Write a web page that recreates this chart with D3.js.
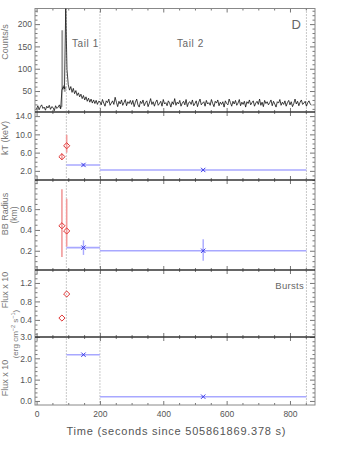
<!DOCTYPE html>
<html>
<head>
<meta charset="utf-8">
<script src="https://cdn.jsdelivr.net/npm/d3@7"></script>
<style>
  body { margin: 0; background: #fff; }
  svg { font-family: "Liberation Sans", Arial, sans-serif; }
</style>
</head>
<body>
<svg id="chart" width="350" height="450"></svg>
<script>
// light curve, 4 s bins starting at t = 0
const binWidth = 4;
const counts = [
  10, 17, 8, 15, 19, 11, 14, 7, 16, 12, 18, 9, 15, 13, 6, 17, 11, 14, 19, 10,
  52, 60, 55, 235, 98,
  64, 52, 60, 47, 56, 44, 51, 40, 46, 37, 43, 33, 40, 30, 37, 27, 34, 25, 32, 23, 30, 22, 29, 20, 27,
  26, 19, 31, 23, 16, 28, 24, 32, 18, 23, 28, 20, 36, 25, 15, 27, 21, 30, 18, 24, 31, 17, 26, 22, 29,
  20, 29, 15, 25, 32, 19, 14, 27, 22, 30, 17, 24,
  28, 15, 23, 33, 20, 26, 16, 25, 30, 18, 22, 27,
  16, 31, 21, 24, 17, 28, 23, 14, 26, 20, 33, 18,
  25, 21, 29, 16, 23, 27, 19, 31, 15, 24, 26, 20,
  30, 17, 22, 28, 15, 25, 32, 19, 23, 26, 16, 29,
  21, 24, 18, 31, 22, 15, 27, 23, 30, 17, 25, 20,
  26, 14, 28, 22, 19, 32, 24, 16, 27, 21, 29, 18,
  23, 31, 17, 25, 20, 27, 14, 26, 22, 30, 19, 24,
  28, 16, 23, 27, 20, 32, 18, 25, 15, 29, 22, 26,
  19, 24, 30, 17, 27, 21, 14, 26, 23, 31, 18, 25,
  20, 28, 16, 24, 29, 19, 26, 15, 22, 32, 21, 27,
  17, 25, 30, 20, 23, 27, 16, 24, 28, 21, 18
];
// finer binned curve around the first burst (gray)
const fineTimes = [72, 76, 78, 80, 82, 84, 86, 88, 90, 92];
const fineCounts = [13, 15, 16, 185, 62, 55, 58, 50, 56, 60];

// burst spectra (red)
const burstTimes = [80, 95];
const burstKT = [5.1, 7.5];
const burstKTLo = [4.4, 6.0];
const burstKTHi = [5.8, 9.9];
const burstRadius = [0.44, 0.39];
const burstRadiusLo = [0.14, 0.24];
const burstRadiusHi = [0.79, 0.70];
const burstFlux = [0.44, 0.96];

// tail spectra (blue)
const tailStart = [94, 200];
const tailEnd = [200, 852];
const tailMid = [148, 526];
const tailKT = [3.3, 2.2];
const tailKTLo = [3.0, 2.0];
const tailKTHi = [3.6, 2.4];
const tailRadius = [0.23, 0.20];
const tailRadiusLo = [0.16, 0.105];
const tailRadiusHi = [0.30, 0.31];
const tailFlux = [2.17, 0.20];

const intervalEdges = [94, 200, 852];
const xTicks = [0, 200, 400, 600, 800];
const countTicks = [50, 100, 150, 200];
const ktTicks = [2, 6, 10, 14];
const radiusTicks = [0.2, 0.4, 0.6];
const burstFluxTicks = [0.4, 0.8, 1.2];
const fluxTicks = [0, 1, 2, 3];

const svg = d3.select("#chart");
const left = 35, right = 315;
const x = d3.scaleLinear().domain([-5, 879]).range([left, right]);

const panels = [
  { top: 8.5, bottom: 112, domain: [3, 235], ticks: countTicks, minor: 10, fmt: d3.format("d") },
  { top: 112, bottom: 180, domain: [0, 14.9], ticks: ktTicks, minor: 1, fmt: d3.format(".1f") },
  { top: 180, bottom: 270, domain: [0.015, 0.88], ticks: radiusTicks, minor: 0.05, fmt: d3.format(".1f") },
  { top: 270, bottom: 337, domain: [0.03, 1.48], ticks: burstFluxTicks, minor: 0.1, fmt: d3.format(".1f") },
  { top: 337, bottom: 405, domain: [-0.19, 3.0], ticks: fluxTicks, minor: 0.2, fmt: d3.format(".1f") }
];
panels.forEach(p => {
  p.y = d3.scaleLinear().domain(p.domain).range([p.bottom, p.top]);
});

const tickColor = "#777", labelColor = "#555";

function styleAxis(g) {
  g.select(".domain").remove();
  g.selectAll(".tick line").attr("stroke", tickColor);
  g.selectAll(".tick text").attr("fill", labelColor).attr("font-size", 8.5)
    .attr("font-family", "Liberation Sans, Arial, sans-serif");
}

panels.forEach((p, i) => {
  const minorTicks = d3.range(Math.ceil(p.domain[0] / p.minor) * p.minor, p.domain[1], p.minor)
    .filter(v => !p.ticks.some(t => Math.abs(t - v) < p.minor / 10));

  // left axis
  svg.append("g").attr("transform", `translate(${left},0)`)
    .call(d3.axisLeft(p.y).tickValues(p.ticks).tickSize(-5).tickPadding(3).tickFormat(p.fmt))
    .call(styleAxis);
  svg.append("g").attr("transform", `translate(${left},0)`)
    .call(d3.axisLeft(p.y).tickValues(minorTicks).tickSize(-2.5).tickFormat(""))
    .call(styleAxis);
  // right axis
  svg.append("g").attr("transform", `translate(${right},0)`)
    .call(d3.axisRight(p.y).tickValues(p.ticks).tickSize(-5).tickFormat(""))
    .call(styleAxis);
  svg.append("g").attr("transform", `translate(${right},0)`)
    .call(d3.axisRight(p.y).tickValues(minorTicks).tickSize(-2.5).tickFormat(""))
    .call(styleAxis);

  // top and bottom time ticks
  const xMinor = d3.range(50, 879, 50).filter(v => v % 200 !== 0);
  svg.append("g").attr("transform", `translate(0,${p.top})`)
    .call(d3.axisTop(x).tickValues(xTicks).tickSize(-4).tickFormat(""))
    .call(styleAxis);
  svg.append("g").attr("transform", `translate(0,${p.top})`)
    .call(d3.axisTop(x).tickValues(xMinor).tickSize(-2).tickFormat(""))
    .call(styleAxis);
  svg.append("g").attr("transform", `translate(0,${p.bottom})`)
    .call(d3.axisBottom(x).tickValues(xTicks).tickSize(-4).tickPadding(6)
      .tickFormat(i === panels.length - 1 ? d3.format("d") : ""))
    .call(styleAxis);
  svg.append("g").attr("transform", `translate(0,${p.bottom})`)
    .call(d3.axisBottom(x).tickValues(xMinor).tickSize(-2).tickFormat(""))
    .call(styleAxis);
});

// frame: gray outer box, dark separators
svg.append("rect")
  .attr("x", left).attr("y", panels[0].top)
  .attr("width", right - left).attr("height", panels[4].bottom - panels[0].top)
  .attr("fill", "none").attr("stroke", "#888").attr("stroke-width", 1);
panels.slice(1).forEach(p => {
  svg.append("line")
    .attr("x1", left).attr("x2", right)
    .attr("y1", p.top).attr("y2", p.top)
    .attr("stroke", "#333").attr("stroke-width", 1.3);
});

// dotted interval lines
intervalEdges.forEach(t => {
  svg.append("line")
    .attr("x1", x(t)).attr("x2", x(t))
    .attr("y1", panels[0].top).attr("y2", panels[4].bottom)
    .attr("stroke", "#777").attr("stroke-width", 0.8)
    .attr("stroke-dasharray", "1,2");
});

// light curve
const p0 = panels[0];
svg.append("clipPath").attr("id", "clip0")
  .append("rect").attr("x", left).attr("y", p0.top)
  .attr("width", right - left).attr("height", p0.bottom - p0.top);

const curve = svg.append("g").attr("clip-path", "url(#clip0)");
curve.append("path")
  .datum(fineTimes.map((t, i) => [t, fineCounts[i]]))
  .attr("d", d3.line().x(d => x(d[0])).y(d => p0.y(d[1])).curve(d3.curveStepAfter))
  .attr("fill", "none").attr("stroke", "#999").attr("stroke-width", 1.2);
curve.append("path")
  .datum(counts.map((c, i) => [i * binWidth, c]))
  .attr("d", d3.line().x(d => x(d[0])).y(d => p0.y(d[1])))
  .attr("fill", "none").attr("stroke", "#111").attr("stroke-width", 0.8);

// helpers for spectral points
const red = "#e03535", lightRed = "#f29a9a", blue = "#3a3ae8", lightBlue = "#a8a8ff";

function diamonds(p, vals) {
  svg.append("g").selectAll("path")
    .data(burstTimes.map((t, i) => [t, vals[i]]))
    .join("path")
    .attr("d", d3.symbol(d3.symbolDiamond2, 24))
    .attr("transform", d => `translate(${x(d[0])},${p.y(d[1])})`)
    .attr("fill", "none").attr("stroke", red).attr("stroke-width", 1);
}
function burstErr(p, lo, hi) {
  svg.append("g").selectAll("line")
    .data(burstTimes.map((t, i) => [t, lo[i], hi[i]]))
    .join("line")
    .attr("x1", d => x(d[0])).attr("x2", d => x(d[0]))
    .attr("y1", d => p.y(d[1])).attr("y2", d => p.y(d[2]))
    .attr("stroke", lightRed).attr("stroke-width", 1.6);
}
function tails(p, vals, lo, hi) {
  const g = svg.append("g");
  const rows = tailMid.map((t, i) => ({ t, a: tailStart[i], b: tailEnd[i], v: vals[i],
    lo: lo ? lo[i] : vals[i], hi: hi ? hi[i] : vals[i] }));
  g.selectAll("line.h").data(rows).join("line").attr("class", "h")
    .attr("x1", d => x(d.a)).attr("x2", d => x(d.b))
    .attr("y1", d => p.y(d.v)).attr("y2", d => p.y(d.v))
    .attr("stroke", lightBlue).attr("stroke-width", 1.6);
  g.selectAll("line.v").data(rows).join("line").attr("class", "v")
    .attr("x1", d => x(d.t)).attr("x2", d => x(d.t))
    .attr("y1", d => p.y(d.lo)).attr("y2", d => p.y(d.hi))
    .attr("stroke", lightBlue).attr("stroke-width", 1.4);
  g.selectAll("path").data(rows).join("path")
    .attr("d", d3.symbol(d3.symbolX, 14))
    .attr("transform", d => `translate(${x(d.t)},${p.y(d.v)})`)
    .attr("fill", "none").attr("stroke", blue).attr("stroke-width", 1);
}

burstErr(panels[1], burstKTLo, burstKTHi);
diamonds(panels[1], burstKT);
tails(panels[1], tailKT, tailKTLo, tailKTHi);

burstErr(panels[2], burstRadiusLo, burstRadiusHi);
diamonds(panels[2], burstRadius);
tails(panels[2], tailRadius, tailRadiusLo, tailRadiusHi);

diamonds(panels[3], burstFlux);
tails(panels[4], tailFlux);

// annotations
const txt = (xx, yy, s, size, anchor) => svg.append("text")
  .attr("x", xx).attr("y", yy).attr("font-size", size)
  .attr("fill", "#666").attr("text-anchor", anchor || "start").text(s);

txt(72, 47, "Tail 1", 10).attr("letter-spacing", 0.6);
txt(177, 47, "Tail 2", 10).attr("letter-spacing", 0.6);
txt(301, 29, "D", 13, "end");
txt(304, 289, "Bursts", 9.5, "end").attr("letter-spacing", 0.3);

// axis titles
svg.append("text")
  .attr("x", 176).attr("y", 435).attr("text-anchor", "middle")
  .attr("font-size", 11).attr("fill", "#555")
  .attr("textLength", 219).attr("lengthAdjust", "spacing")
  .text("Time (seconds since 505861869.378 s)");

function ytitle(xx, yc, s, size) {
  return svg.append("text")
    .attr("transform", `translate(${xx},${yc}) rotate(-90)`)
    .attr("text-anchor", "middle").attr("font-size", size || 9)
    .attr("fill", "#777").text(s);
}
ytitle(8, 42, "Counts/s");
ytitle(8, 138, "kT (keV)");
ytitle(8, 214, "BB Radius");
ytitle(17, 215, "(km)", 8.5);
ytitle(8, 290, "Flux x 10");
ytitle(8, 378, "Flux x 10");
const units = ytitle(18, 334, "", 8);
units.append("tspan").text("(erg cm");
units.append("tspan").attr("baseline-shift", "super").attr("font-size", 5.5).text("−2");
units.append("tspan").text(" s");
units.append("tspan").attr("baseline-shift", "super").attr("font-size", 5.5).text("−1");
units.append("tspan").text(")");
</script>
</body>
</html>
